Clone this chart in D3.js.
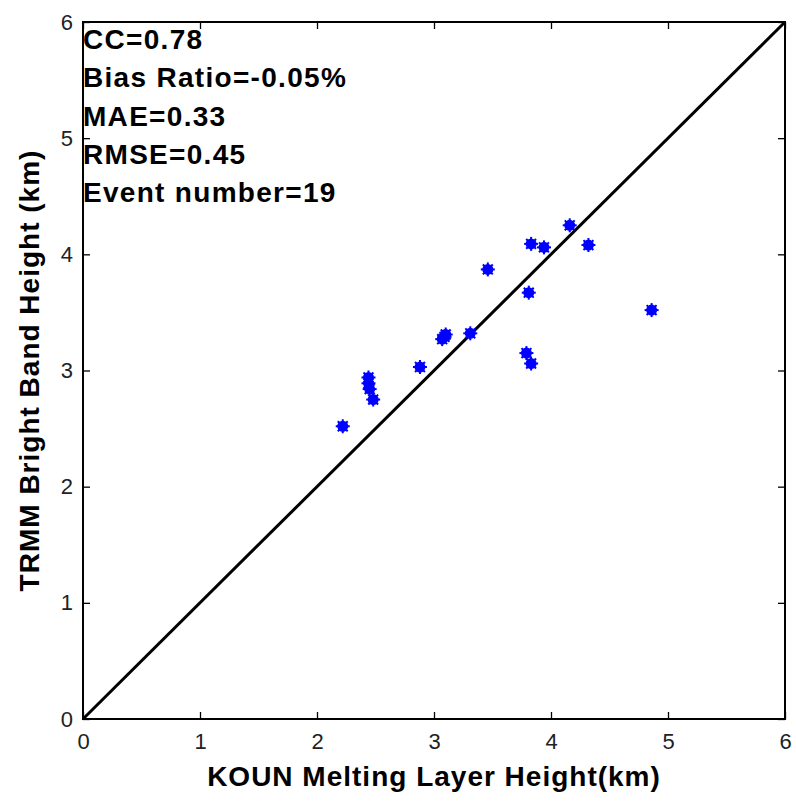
<html>
<head>
    <script src="https://cdn.jsdelivr.net/npm/d3@7/dist/d3.min.js"></script>
    <style>
        body { margin: 0; background: #fff; }
        .tick text { font-family: "Liberation Sans", Arial, sans-serif; font-size: 22px; fill: #222; }
    </style>
</head>
<body>
    <script>
        // window size and plot box (pixels)
        var width = 796, height = 801;
        var boxLeft = 83, boxRight = 785, boxTop = 22, boxBottom = 719;

        // data: KOUN melting layer height vs TRMM bright band height (km)
        var kounHeight = [4.16, 3.83, 3.94, 4.32, 3.46, 3.81, 3.07, 3.10, 3.31, 3.79, 3.83,
                          2.88, 2.44, 2.44, 2.45, 2.48, 2.22, 4.86, 3.09];
        var trmmHeight = [4.25, 4.09, 4.06, 4.08, 3.87, 3.67, 3.27, 3.31, 3.32, 3.15, 3.06,
                          3.03, 2.94, 2.89, 2.84, 2.75, 2.52, 3.52, 3.29];

        // axis ticks and stats text
        var tickValues = [0, 1, 2, 3, 4, 5, 6];
        var statLines = ["CC=0.78", "Bias Ratio=-0.05%", "MAE=0.33", "RMSE=0.45", "Event number=19"];
        var xTitle = "KOUN Melting Layer Height(km)";
        var yTitle = "TRMM Bright Band Height (km)";

        var svg = d3.select("body")
            .append("svg")
            .attr("width", width)
            .attr("height", height);

        var x = d3.scaleLinear().domain([0, 6]).range([boxLeft, boxRight]);
        var y = d3.scaleLinear().domain([0, 6]).range([boxBottom, boxTop]);

        // axes, ticks pointing inward (matlab style)
        svg.append("g").attr("transform", "translate(0," + boxBottom + ")")
            .call(d3.axisBottom(x).tickValues(tickValues).tickFormat(d3.format("d"))
                .tickSizeInner(-7).tickSizeOuter(0).tickPadding(14));
        svg.append("g").attr("transform", "translate(0," + boxTop + ")")
            .call(d3.axisTop(x).tickValues(tickValues).tickSizeInner(-7).tickSizeOuter(0).tickFormat(""));
        svg.append("g").attr("transform", "translate(" + boxLeft + ",0)")
            .call(d3.axisLeft(y).tickValues(tickValues).tickFormat(d3.format("d"))
                .tickSizeInner(-7).tickSizeOuter(0).tickPadding(10));
        svg.append("g").attr("transform", "translate(" + boxRight + ",0)")
            .call(d3.axisRight(y).tickValues(tickValues).tickSizeInner(-7).tickSizeOuter(0).tickFormat(""));

        svg.selectAll(".domain").remove();
        svg.selectAll(".tick line").attr("stroke", "#000").attr("stroke-width", 1.3);

        // plot box
        svg.append("rect")
            .attr("x", boxLeft).attr("y", boxTop)
            .attr("width", boxRight - boxLeft).attr("height", boxBottom - boxTop)
            .attr("fill", "none").attr("stroke", "#000").attr("stroke-width", 2);

        // 1:1 line
        svg.append("line")
            .attr("x1", x(0)).attr("y1", y(0))
            .attr("x2", x(6)).attr("y2", y(6))
            .attr("stroke", "#000").attr("stroke-width", 3);

        // blue star markers
        var pts = svg.append("g").selectAll("g")
            .data(kounHeight.map(function (d, i) { return [d, trmmHeight[i]]; }))
            .join("g")
            .attr("transform", function (d) { return "translate(" + x(d[0]) + "," + y(d[1]) + ")"; });

        pts.append("circle").attr("r", 5.5).attr("fill", "#0000ff");
        [0, 45, 90, 135].forEach(function (a) {
            pts.append("line")
                .attr("x1", -7).attr("x2", 7)
                .attr("transform", "rotate(" + a + ")")
                .attr("stroke", "#0000ff").attr("stroke-width", 2);
        });

        // statistics text
        svg.append("g").selectAll("text")
            .data(statLines)
            .join("text")
            .attr("x", boxLeft)
            .attr("y", function (d, i) { return 49 + i * 38.3; })
            .attr("font-family", "Liberation Sans, Arial, sans-serif")
            .attr("font-size", 28)
            .attr("font-weight", "bold")
            .attr("letter-spacing", 1.3)
            .text(function (d) { return d; });

        // axis titles
        svg.append("text")
            .attr("x", (boxLeft + boxRight) / 2).attr("y", 786)
            .attr("text-anchor", "middle")
            .attr("font-family", "Liberation Sans, Arial, sans-serif")
            .attr("font-size", 28).attr("font-weight", "bold").attr("letter-spacing", 1)
            .text(xTitle);

        svg.append("text")
            .attr("transform", "translate(39," + (boxTop + boxBottom) / 2 + ") rotate(-90)")
            .attr("text-anchor", "middle")
            .attr("font-family", "Liberation Sans, Arial, sans-serif")
            .attr("font-size", 28).attr("font-weight", "bold").attr("letter-spacing", 1)
            .text(yTitle);
    </script>
</body>
</html>
